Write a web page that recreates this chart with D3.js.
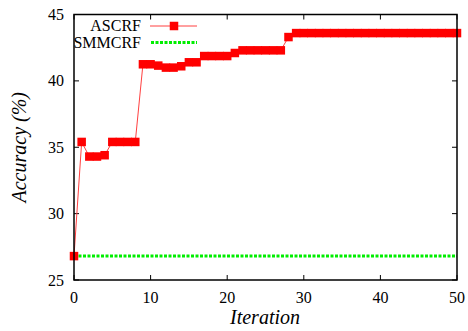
<!DOCTYPE html>
<html><head><meta charset="utf-8">
<script src="https://cdn.jsdelivr.net/npm/d3@7"></script>
<style>body{margin:0;background:#fff}svg{display:block}</style>
</head><body>
<script>
const iterations = d3.range(0, 51);
const ascrf = [26.8, 35.4, 34.3, 34.3, 34.4, 35.4, 35.4, 35.4, 35.4, 41.25,
  41.25, 41.15, 41.0, 41.0, 41.1, 41.4, 41.4, 41.87, 41.87, 41.87,
  41.87, 42.1, 42.3, 42.3, 42.3, 42.3, 42.3, 42.3, 43.3, 43.6,
  43.6, 43.6, 43.6, 43.6, 43.6, 43.6, 43.6, 43.6, 43.6, 43.6,
  43.6, 43.6, 43.6, 43.6, 43.6, 43.6, 43.6, 43.6, 43.6, 43.6, 43.6];
const smmcrf = iterations.map(() => 26.8);
const xTicks = [0, 10, 20, 30, 40, 50];
const yTicks = [25, 30, 35, 40, 45];
const seriesNames = ["ASCRF", "SMMCRF"];

const FONT = "'Liberation Serif', 'Times New Roman', Times, 'DejaVu Serif', serif";
const GREEN = "#00ee00";
const W = 468, H = 331;
const svg = d3.select("body").append("svg").attr("width", W).attr("height", H)
  .attr("font-family", FONT);
const x = d3.scaleLinear().domain([0, 50]).range([74, 457]);
const y = d3.scaleLinear().domain([25, 45]).range([280, 14.5]);

const tl = 5;
const g = svg.append("g");
xTicks.forEach(t => {
  g.append("line").attr("x1", x(t)).attr("x2", x(t)).attr("y1", y(25)).attr("y2", y(25) - tl).attr("stroke", "#000");
  g.append("line").attr("x1", x(t)).attr("x2", x(t)).attr("y1", y(45)).attr("y2", y(45) + tl).attr("stroke", "#000");
  g.append("text").attr("x", x(t)).attr("y", 303).attr("text-anchor", "middle").attr("font-size", 16).attr("font-family", FONT).text(t);
});
yTicks.forEach(t => {
  g.append("line").attr("x1", x(0)).attr("x2", x(0) + tl).attr("y1", y(t)).attr("y2", y(t)).attr("stroke", "#000");
  g.append("line").attr("x1", x(50)).attr("x2", x(50) - tl).attr("y1", y(t)).attr("y2", y(t)).attr("stroke", "#000");
  g.append("text").attr("x", 64).attr("y", y(t) + 5.5).attr("text-anchor", "end").attr("font-size", 16).attr("font-family", FONT).text(t);
});

svg.append("path").datum(smmcrf)
  .attr("d", d3.line().x((d, i) => x(iterations[i])).y(d => y(d)))
  .attr("fill", "none").attr("stroke", GREEN).attr("stroke-width", 3).attr("stroke-dasharray", "3,1.5");

svg.append("path").datum(ascrf)
  .attr("d", d3.line().x((d, i) => x(iterations[i])).y(d => y(d)))
  .attr("fill", "none").attr("stroke", "#ff4040").attr("stroke-width", 1);
const ms = 8.5;
svg.selectAll("rect.m").data(ascrf).enter().append("rect")
  .attr("x", (d, i) => x(iterations[i]) - ms / 2).attr("y", d => y(d) - ms / 2)
  .attr("width", ms).attr("height", ms).attr("fill", "#ff0000");

svg.append("rect").attr("x", x(0)).attr("y", y(45)).attr("width", x(50) - x(0)).attr("height", y(25) - y(45))
  .attr("fill", "none").attr("stroke", "#000").attr("stroke-width", 1.5);

svg.append("text").attr("x", 141).attr("y", 31).attr("text-anchor", "end").attr("font-size", 16).attr("font-family", FONT).text(seriesNames[0]);
svg.append("line").attr("x1", 150).attr("x2", 197).attr("y1", 26).attr("y2", 26).attr("stroke", "#ff4040").attr("stroke-width", 1);
svg.append("rect").attr("x", 174 - ms / 2).attr("y", 26 - ms / 2).attr("width", ms).attr("height", ms).attr("fill", "#ff0000");
svg.append("text").attr("x", 141).attr("y", 48).attr("text-anchor", "end").attr("font-size", 16).attr("font-family", FONT).text(seriesNames[1]);
svg.append("line").attr("x1", 151).attr("x2", 197).attr("y1", 42.5).attr("y2", 42.5).attr("stroke", GREEN).attr("stroke-width", 3).attr("stroke-dasharray", "3,1.5");

svg.append("text").attr("x", 265).attr("y", 324).attr("text-anchor", "middle").attr("font-size", 20).attr("font-style", "italic").attr("font-family", FONT).text("Iteration");
svg.append("text").attr("transform", "translate(26," + y(35) + ") rotate(-90)").attr("text-anchor", "middle")
  .attr("font-size", 20).attr("font-style", "italic").attr("font-family", FONT).text("Accuracy (%)");
</script>
</body></html>
